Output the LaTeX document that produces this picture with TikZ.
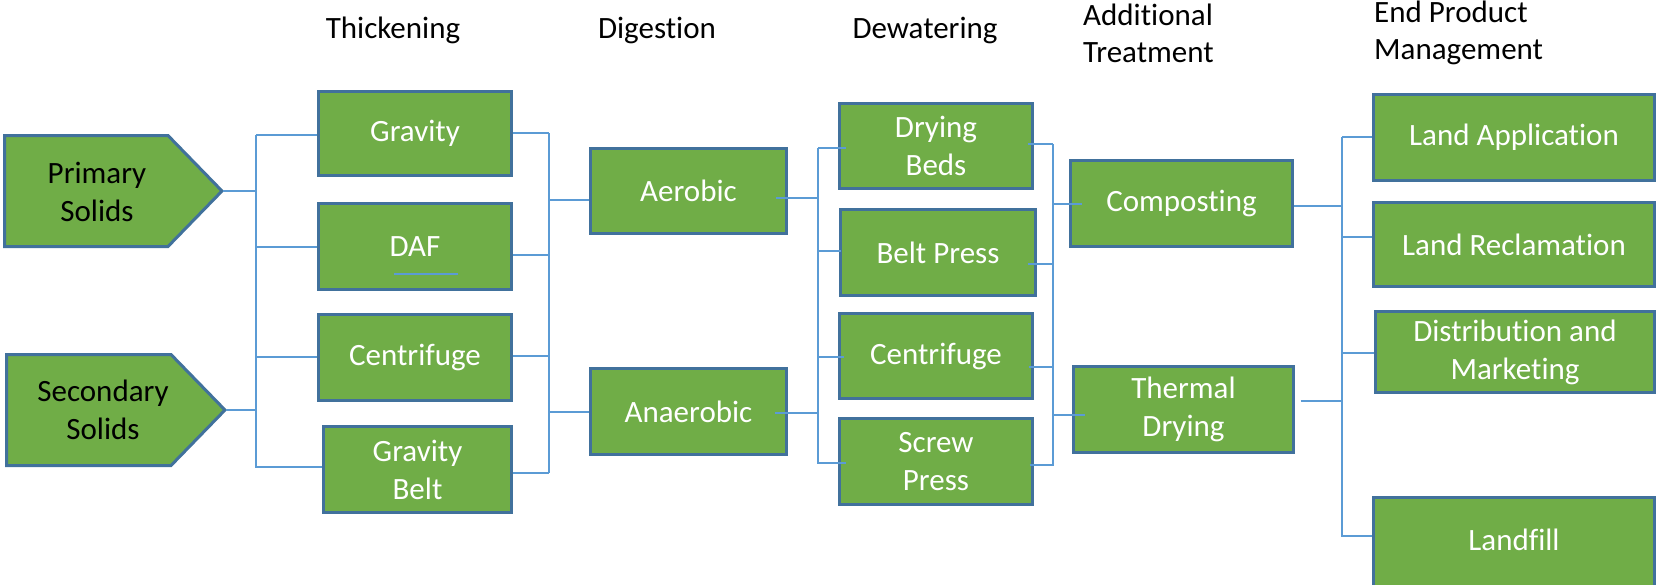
\documentclass[tikz,border=0pt]{standalone}
\usepackage{fontspec}
\setmainfont{Carlito}[Ligatures=CommonOff]
\usetikzlibrary{calc}
\definecolor{boxgreen}{HTML}{70AD47}
\definecolor{boxedge}{HTML}{41719C}
\definecolor{linkblue}{HTML}{5B9BD5}
\newcommand\myhlink[3]{%
  \path ($(#1)+(#2)$) coordinate (lnkA);
  \draw[conn] (lnkA) -- (lnkA -| #3);}
\begin{document}
\begin{tikzpicture}[x=1pt,y=-1pt,
  stagebox/.style={draw=boxedge, line width=3pt, fill=boxgreen, text=white,
    font=\fontsize{31}{38}\selectfont, align=center, inner sep=0pt},
  pent/.style={draw=boxedge, line width=3pt, fill=boxgreen, line join=miter},
  penttxt/.style={text=black, font=\fontsize{31}{38}\selectfont, align=center, inner sep=0pt},
  head/.style={text=black, font=\fontsize{31}{37}\selectfont, align=left, inner sep=0pt},
  conn/.style={draw=linkblue, line width=1.6pt}]
\useasboundingbox (0,0) rectangle (1657,584);
\clip (0,0) rectangle (1657,584);

% headers
\node[head] (hthick) at (393,30) {Thickening};
\node[head] (hdig) at (657,30) {Digestion};
\node[head] (hdew) at (925,30) {Dewatering};
\node[head, anchor=west] (hadd) at (1083,33) {Additional\\Treatment};
\node[head, anchor=west] (hend) at (1374,33) {End Product\\Management};

% sources
\draw[pent] (4.5,135.5) -- (168,135.5) -- (222,191) -- (168,246.5) -- (4.5,246.5) -- cycle;
\node[penttxt] (prim) at (97,192) {Primary\\Solids};
\coordinate (primtip) at (223,191);
\draw[pent] (6.5,354.5) -- (171,354.5) -- (225,410) -- (171,465.5) -- (6.5,465.5) -- cycle;
\node[penttxt] (sec) at (103,410) {Secondary\\Solids};
\coordinate (sectip) at (226,410);

% thickening
\node[stagebox, minimum width=193, minimum height=84] (grav) at (415,133.5) {Gravity};
\node[stagebox, minimum width=193, minimum height=86] (daf) at (415,246.5) {DAF};
\node[stagebox, minimum width=193, minimum height=86] (cen1) at (415,357.5) {Centrifuge};
\node[stagebox, minimum width=188, minimum height=86] (gbelt) at (417.5,469.5) {Gravity\\Belt};

% digestion
\node[stagebox, minimum width=196, minimum height=85] (aer) at (688.5,191) {Aerobic};
\node[stagebox, minimum width=196, minimum height=86] (ana) at (688.5,411.5) {Anaerobic};

% dewatering
\node[stagebox, minimum width=193, minimum height=85] (dry) at (936,146) {Drying\\Beds};
\node[stagebox, minimum width=195, minimum height=86] (belt) at (938,252.5) {Belt Press};
\node[stagebox, minimum width=193, minimum height=85] (cen2) at (936,356) {Centrifuge};
\node[stagebox, minimum width=193, minimum height=86] (screw) at (936,461.5) {Screw\\Press};

% additional treatment
\node[stagebox, minimum width=222, minimum height=86] (comp) at (1181.5,203.5) {Composting};
\node[stagebox, minimum width=220, minimum height=86] (therm) at (1183.5,409.5) {Thermal\\Drying};

% end product management
\node[stagebox, minimum width=281, minimum height=86] (lapp) at (1514,137.5) {Land Application};
\node[stagebox, minimum width=281, minimum height=84] (lrec) at (1514,244.5) {Land Reclamation};
\node[stagebox, minimum width=279, minimum height=81] (dist) at (1515,352) {Distribution and\\Marketing};
\node[stagebox, minimum width=281, minimum height=100] (lfill) at (1514,547.5) {};
\node[text=white, font=\fontsize{31}{38}\selectfont, inner sep=0pt] (lfilltxt) at (1514,540) {Landfill};

% buses
\coordinate (t1) at (256,0);
\coordinate (t2) at (549,0);
\coordinate (t3) at (818,0);
\coordinate (t4) at (1053,0);
\coordinate (t5) at (1342,0);
\draw[conn] (t1 |- 0,135) -- (t1 |- 0,468);
\draw[conn] (t2 |- 0,133) -- (t2 |- 0,473);
\draw[conn] (t3 |- 0,148) -- (t3 |- 0,464);
\draw[conn] (t4 |- 0,144) -- (t4 |- 0,466);
\draw[conn] (t5 |- 0,137) -- (t5 |- 0,537);

% sources -> thickening bus
\myhlink{primtip}{0,0}{t1}
\myhlink{sectip}{0,0}{t1}
% thickening in
\myhlink{grav.west}{0,1.5}{t1}
\myhlink{daf.west}{0,0.5}{t1}
\myhlink{cen1.west}{0,-0.5}{t1}
\myhlink{gbelt.west}{0,-2.5}{t1}
% thickening out
\myhlink{grav.east}{0,-0.5}{t2}
\myhlink{daf.east}{0,8.5}{t2}
\myhlink{cen1.east}{0,-1.5}{t2}
\myhlink{gbelt.east}{0,3.5}{t2}
% digestion in
\myhlink{aer.west}{0,9}{t2}
\myhlink{ana.west}{0,0.5}{t2}
% digestion out
\myhlink{aer.east}{-12,7}{t3}
\myhlink{ana.east}{-13,1.5}{t3}
% dewatering in
\myhlink{dry.west}{7.5,2}{t3}
\myhlink{belt.west}{1.5,-1.5}{t3}
\myhlink{cen2.west}{5.5,1}{t3}
\myhlink{screw.west}{7.5,1.5}{t3}
% dewatering out
\myhlink{dry.east}{-6.5,-2}{t4}
\myhlink{belt.east}{-9.5,11.5}{t4}
\myhlink{cen2.east}{-5.5,11}{t4}
\myhlink{screw.east}{-4.5,3.5}{t4}
% additional treatment in
\myhlink{comp.west}{12.5,0.5}{t4}
\myhlink{therm.west}{13,5.5}{t4}
% additional treatment out
\myhlink{comp.east}{0,2.5}{t5}
\myhlink{therm.east}{5.5,-8.5}{t5}
% end product in
\myhlink{lapp.west}{0,-0.5}{t5}
\myhlink{lrec.west}{0,-7.5}{t5}
\myhlink{dist.west}{0,1}{t5}
\myhlink{lfill.west}{0,-11.5}{t5}

% stray line inside DAF box
\draw[conn] ($(daf.center)+(-21,27.5)$) -- ($(daf.center)+(43,27.5)$);
\end{tikzpicture}
\end{document}
